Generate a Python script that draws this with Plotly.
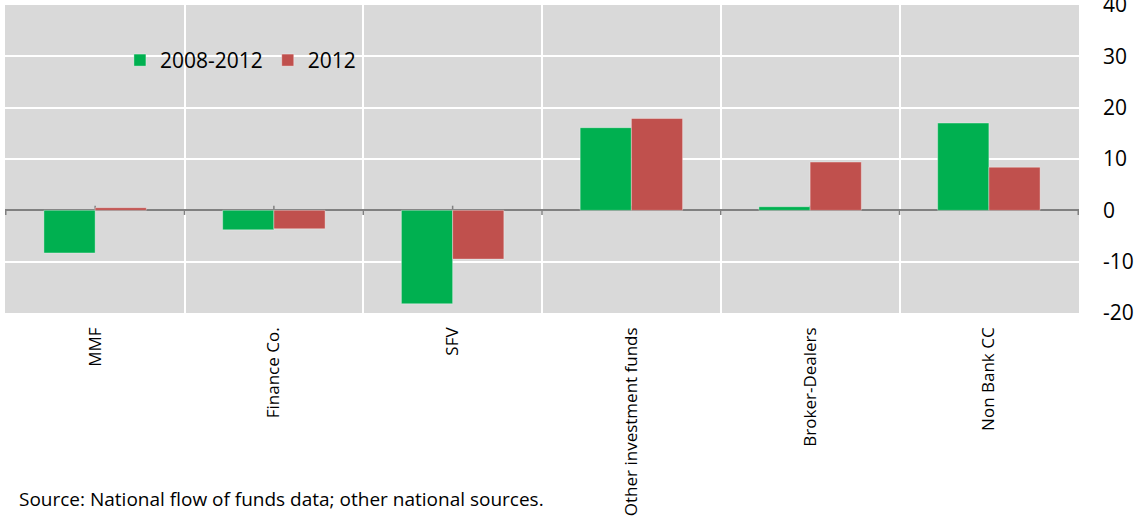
import plotly.graph_objects as go

categories = ["MMF", "Finance Co.", "SFV", "Other investment funds", "Broker-Dealers", "Non Bank CC"]
series_names = ["2008-2012", "2012"]
values_2008_2012 = [-8.3, -3.8, -18.2, 16.1, 0.7, 17.0]
values_2012 = [0.5, -3.6, -9.5, 17.9, 9.4, 8.4]
y_ticks = [-20, -10, 0, 10, 20, 30, 40]
y_tick_labels = ["-20", "-10", "0", "10", "20", "30", "40"]
source_text = "Source: National flow of funds data; other national sources."

GREEN = "#00B050"
RED = "#C0504D"
FONT = "Open Sans, Noto Sans, sans-serif"

fig = go.Figure()
fig.add_trace(go.Bar(x=categories, y=values_2008_2012, name=series_names[0],
                     marker=dict(color=GREEN, line=dict(color="rgba(255,255,255,0.35)", width=1))))
fig.add_trace(go.Bar(x=categories, y=values_2012, name=series_names[1],
                     marker=dict(color=RED, line=dict(color="rgba(255,255,255,0.35)", width=1))))

# small tick marks on the zero line
shapes = []
for i in range(len(categories) + 1):
    shapes.append(dict(type="line", xref="x", yref="y", x0=i - 0.5, x1=i - 0.5, y0=0, y1=-0.9,
                       line=dict(color="#808080", width=1.5)))
for i in range(len(categories)):
    shapes.append(dict(type="line", xref="x", yref="y", x0=i, x1=i, y0=0, y1=0.9,
                       line=dict(color="#808080", width=1.5), layer="below"))

fig.update_layout(
    width=1141, height=517,
    margin=dict(l=5, r=62, t=5, b=204, autoexpand=False),
    paper_bgcolor="white",
    plot_bgcolor="#D9D9D9",
    barmode="group",
    bargap=0.427,
    bargroupgap=0,
    font=dict(family=FONT, color="black"),
    showlegend=True,
    legend=dict(orientation="h", x=0.107, y=0.82, xanchor="left", yanchor="middle",
                bgcolor="rgba(0,0,0,0)", font=dict(size=21, family=FONT),
                itemwidth=30, tracegroupgap=0),
    shapes=shapes,
    xaxis=dict(type="category", tickson="boundaries", showgrid=True, gridcolor="white", gridwidth=2,
               ticks="", tickangle=-90, tickfont=dict(size=17, family=FONT), automargin=False,
               ticklabelstandoff=10, showline=False, zeroline=False),
    yaxis=dict(side="right", range=[-20, 40], tickvals=y_ticks, ticktext=y_tick_labels,
               showgrid=True, gridcolor="white", ticklabeloverflow="allow", automargin=False,
               gridwidth=2, zeroline=True, zerolinecolor="#808080", zerolinewidth=2,
               ticks="", tickfont=dict(size=21, family=FONT), ticklabelstandoff=23, showline=False),
    annotations=[dict(text=source_text, xref="paper", yref="paper", x=0.011, y=-0.605,
                      xanchor="left", yanchor="middle", showarrow=False,
                      font=dict(size=19, family=FONT))],
)

fig.write_html("out.html")
